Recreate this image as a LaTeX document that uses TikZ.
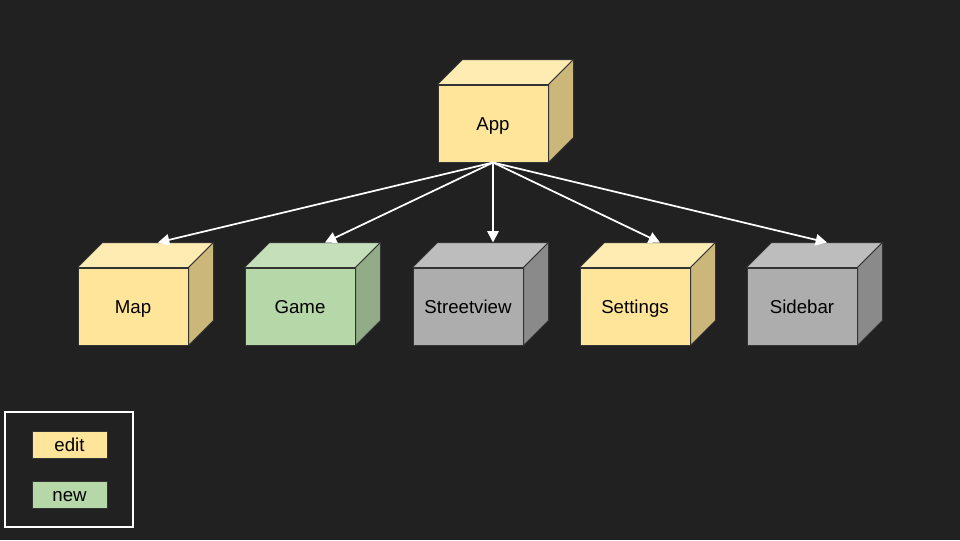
\documentclass[tikz,border=0pt]{standalone}
\usepackage{fontspec}
\setmainfont{Liberation Sans}
\usetikzlibrary{arrows.meta}
\definecolor{bg}{HTML}{212121}
\definecolor{edgec}{HTML}{333333}
\definecolor{yfront}{HTML}{FFE599}
\definecolor{ytop}{HTML}{FFECB3}
\definecolor{yside}{HTML}{CCB77A}
\definecolor{gfront}{HTML}{B6D7A8}
\definecolor{gtop}{HTML}{C5DFBA}
\definecolor{gside}{HTML}{91AC86}
\definecolor{kfront}{HTML}{ADADAD}
\definecolor{ktop}{HTML}{BDBDBD}
\definecolor{kside}{HTML}{8A8A8A}
\tikzset{
  face/.style={draw=edgec, line width=0.75pt, inner sep=0pt, minimum width=82.5pt, minimum height=57.75pt, font=\fontsize{14}{16}\selectfont, text=black, text height=11pt, text depth=0pt},
  facepart/.style={draw=edgec, line width=0.75pt, line join=round},
  link/.style={draw=white, line width=1.3pt, -{Triangle[length=8.5pt,width=8.5pt]}},
  legendbox/.style={draw=edgec, line width=0.75pt, inner sep=0pt, minimum width=56.25pt, minimum height=20.25pt, font=\fontsize{14}{16}\selectfont, text=black, text height=10pt, text depth=0pt},
  legendframe/.style={draw=white, line width=1.5pt, minimum width=96pt, minimum height=86.25pt, inner sep=0pt}
}
\newcommand{\mycube}[7]{%
  \node[face, fill=#4] (#1) at (#2,#3) {#7};
  \filldraw[facepart, fill=#5] (#1.north west) -- ([shift={(25,-25)}]#1.north west) -- ([shift={(25,-25)}]#1.north east) -- (#1.north east) -- cycle;
  \filldraw[facepart, fill=#6] (#1.north east) -- ([shift={(25,-25)}]#1.north east) -- ([shift={(25,-25)}]#1.south east) -- (#1.south east) -- cycle;
  \coordinate (#1-top) at ([shift={(25,-25)}]#1.north);
}
\begin{document}
\begin{tikzpicture}[x=0.75pt,y=-0.75pt]
\fill[bg] (0,0) rectangle (960,540);
\useasboundingbox (0,0) rectangle (960,540);
\mycube{app}{493}{123.5}{yfront}{ytop}{yside}{App}
\mycube{map}{133}{306.5}{yfront}{ytop}{yside}{Map}
\mycube{game}{300}{306.5}{gfront}{gtop}{gside}{Game}
\mycube{street}{468}{306.5}{kfront}{ktop}{kside}{Streetview}
\mycube{settings}{635}{306.5}{yfront}{ytop}{yside}{Settings}
\mycube{sidebar}{802}{306.5}{kfront}{ktop}{kside}{Sidebar}
\foreach \c in {map,game,street,settings,sidebar}{
  \draw[link] (app.south) -- (\c-top);
}
\node[legendframe] (legend) at (69,469.5) {};
\node[legendbox, fill=yfront] (edit) at (69.5,444.5) {edit};
\node[legendbox, fill=gfront] (new) at (69.5,494.5) {new};
\end{tikzpicture}
\end{document}
